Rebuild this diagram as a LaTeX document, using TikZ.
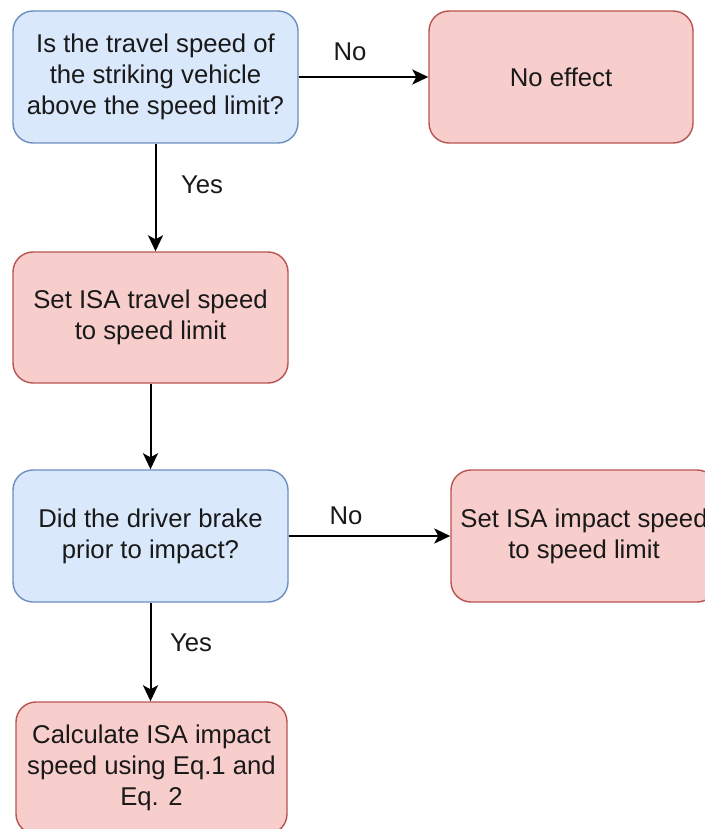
\documentclass[tikz,border=0pt]{standalone}
\usepackage{fontspec}
\setmainfont{Liberation Sans}
\usetikzlibrary{arrows.meta}
\definecolor{bluefill}{HTML}{DAE8FC}
\definecolor{blueline}{HTML}{6C8EBF}
\definecolor{redfill}{HTML}{F8CECC}
\definecolor{redline}{HTML}{B85450}
\tikzset{
  box/.style={rectangle, rounded corners=20pt, line width=1.4pt, inner sep=0pt,
    align=center, font=\fontsize{25.7}{31}\selectfont, text=black!90},
  bluebox/.style={box, fill=bluefill, draw=blueline},
  redbox/.style={box, fill=redfill, draw=redline},
  conn/.style={line width=2pt, -{Stealth[length=16pt,width=15pt,inset=4pt]}},
  lbl/.style={font=\fontsize{25.7}{31}\selectfont, text=black!90, inner sep=0pt}
}
\begin{document}
\begin{tikzpicture}[x=1pt,y=-1pt]
\useasboundingbox[fill=white] (0,0) rectangle (704,829);
\node[bluebox, minimum width=285pt, minimum height=132pt] (b1) at (155.5,77)
  {Is the travel speed of\\the striking vehicle\\above the speed limit?};
\node[redbox, minimum width=264pt, minimum height=132pt] (ne) at (561,77) {No effect};
\node[redbox, minimum width=275pt, minimum height=131pt] (b3) at (150.5,317.5)
  {Set ISA travel speed\\to speed limit};
\node[bluebox, minimum width=275pt, minimum height=132pt] (b4) at (150.5,536)
  {Did the driver brake\\prior to impact?};
\node[redbox, minimum width=266pt, minimum height=132pt] (b5) at (584,536)
  {Set ISA impact speed\\to speed limit};
\node[redbox, minimum width=271pt, minimum height=132pt] (b6) at (151.5,768)
  {Calculate ISA impact\\speed using Eq.1 and\\Eq. 2};
\draw[conn] (b1.east) -- (ne.west);
\draw[conn] (b1.south) -- (b1.south |- b3.north);
\draw[conn] (b3.south) -- (b3.south |- b4.north);
\draw[conn] (b4.east) -- (b5.west);
\draw[conn] (b4.south) -- (b4.south |- b6.north);
\node[lbl] (l1) at (350,52) {No};
\node[lbl] (l2) at (202,185) {Yes};
\node[lbl] (l3) at (346,516) {No};
\node[lbl] (l4) at (191,643) {Yes};
\end{tikzpicture}
\end{document}
